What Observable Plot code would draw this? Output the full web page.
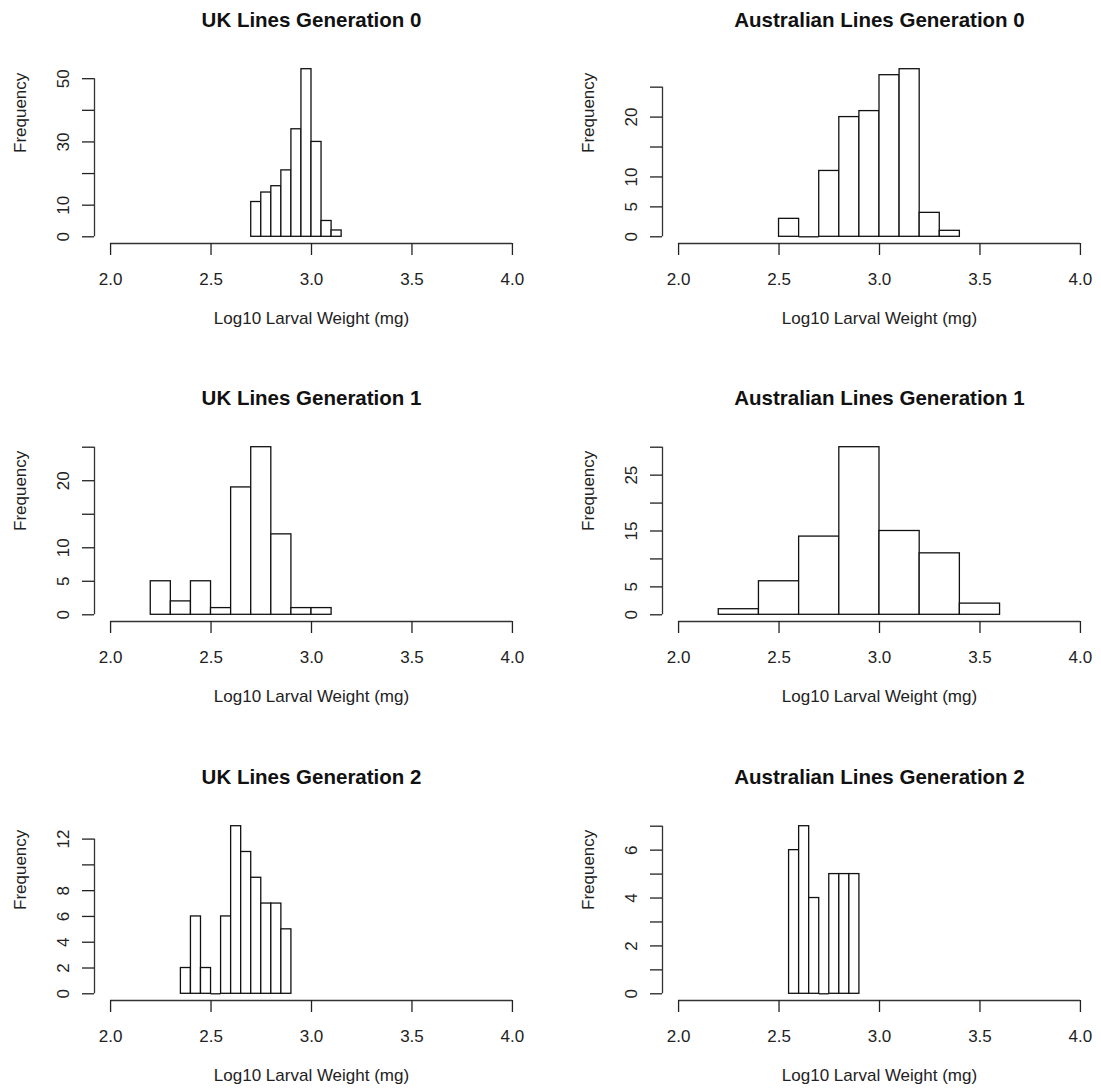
<!DOCTYPE html>
<html><head><meta charset="utf-8">
<script src="https://cdn.jsdelivr.net/npm/d3@7"></script>
<script src="https://cdn.jsdelivr.net/npm/@observablehq/plot@0.6"></script>
<style>
body{margin:0;background:#fff;overflow:hidden}
#root{position:relative;width:1101px;height:1091px;background:#fff}
.panel{position:absolute}
</style></head><body><div id="root"></div>
<script>
// ---- data ----
const xTicks = [2.0, 2.5, 3.0, 3.5, 4.0];
const xLimits = [2, 4];
const xLabel = "Log10 Larval Weight (mg)";
const yLabel = "Frequency";

const ukGen0Title = "UK Lines Generation 0";
const ukGen0Breaks = [2.70, 2.75, 2.80, 2.85, 2.90, 2.95, 3.00, 3.05, 3.10, 3.15];
const ukGen0Counts = [11, 14, 16, 21, 34, 53, 30, 5, 2];
const ukGen0YTicks = [0, 10, 20, 30, 40, 50];
const ukGen0YLabels = [0, 10, 30, 50];

const auGen0Title = "Australian Lines Generation 0";
const auGen0Breaks = [2.5, 2.6, 2.7, 2.8, 2.9, 3.0, 3.1, 3.2, 3.3, 3.4];
const auGen0Counts = [3, 0, 11, 20, 21, 27, 28, 4, 1];
const auGen0YTicks = [0, 5, 10, 15, 20, 25];
const auGen0YLabels = [0, 5, 10, 20];

const ukGen1Title = "UK Lines Generation 1";
const ukGen1Breaks = [2.2, 2.3, 2.4, 2.5, 2.6, 2.7, 2.8, 2.9, 3.0, 3.1];
const ukGen1Counts = [5, 2, 5, 1, 19, 25, 12, 1, 1];
const ukGen1YTicks = [0, 5, 10, 15, 20, 25];
const ukGen1YLabels = [0, 5, 10, 20];

const auGen1Title = "Australian Lines Generation 1";
const auGen1Breaks = [2.2, 2.4, 2.6, 2.8, 3.0, 3.2, 3.4, 3.6];
const auGen1Counts = [1, 6, 14, 30, 15, 11, 2];
const auGen1YTicks = [0, 5, 10, 15, 20, 25, 30];
const auGen1YLabels = [0, 5, 15, 25];

const ukGen2Title = "UK Lines Generation 2";
const ukGen2Breaks = [2.35, 2.40, 2.45, 2.50, 2.55, 2.60, 2.65, 2.70, 2.75, 2.80, 2.85, 2.90];
const ukGen2Counts = [2, 6, 2, 0, 6, 13, 11, 9, 7, 7, 5];
const ukGen2YTicks = [0, 2, 4, 6, 8, 10, 12];
const ukGen2YLabels = [0, 2, 4, 6, 8, 12];

const auGen2Title = "Australian Lines Generation 2";
const auGen2Breaks = [2.55, 2.60, 2.65, 2.70, 2.75, 2.80, 2.85, 2.90];
const auGen2Counts = [6, 7, 4, 0, 5, 5, 5];
const auGen2YTicks = [0, 1, 2, 3, 4, 5, 6, 7];
const auGen2YLabels = [0, 2, 4, 6];

// ---- drawing ----
const FONT = "'Liberation Sans', Arial, Helvetica, sans-serif";
const fmt = d3.format(".1f");

function panel(title, breaks, counts, yTicks, yLabels, left, top) {
  const bins = counts.map((n, i) => ({x1: breaks[i], x2: breaks[i + 1], n}));
  const ymax = d3.max(counts);
  const ypad = 0.04 * ymax;
  const xpad = 0.04 * (xLimits[1] - xLimits[0]);
  const xDomain = [xLimits[0] - xpad, xLimits[1] + xpad];
  const yDomain = [-ypad, ymax + ypad];
  const chart = Plot.plot({
    width: 533, height: 333,
    marginLeft: 94, marginRight: 5, marginTop: 62, marginBottom: 90,
    x: {domain: xDomain},
    y: {domain: yDomain},
    style: {fontFamily: FONT, fontSize: "17px", color: "#222", background: "white"},
    marks: [
      Plot.rectY(bins.filter(d => d.n > 0), {x1: "x1", x2: "x2", y1: () => 0, y2: "n", fill: "white", stroke: "#111", strokeWidth: 1.3}),
      Plot.ruleY(bins.filter(d => d.n === 0), {x1: "x1", x2: "x2", y: () => 0, stroke: "#111", strokeWidth: 1.3}),
      Plot.ruleY([yDomain[0]], {x1: () => xLimits[0], x2: () => xLimits[1], stroke: "#333", strokeWidth: 1.3}),
      Plot.ruleX([xDomain[0]], {y1: () => yTicks[0], y2: () => yTicks[yTicks.length - 1], stroke: "#333", strokeWidth: 1.3}),
      Plot.axisX({ticks: xTicks, tickFormat: fmt, tickSize: 12, tickPadding: 17, fontSize: 17, label: null, strokeWidth: 1.3}),
      Plot.axisY({ticks: yTicks, tickSize: 12, tickPadding: 14, tickRotate: -90, fontSize: 17, label: null, strokeWidth: 1.3,
        tickFormat: d => yLabels.includes(d) ? String(d) : ""}),
      Plot.text([title], {frameAnchor: "top", lineAnchor: "middle", dy: -42, text: d => d, fontSize: 20.5, fontWeight: "bold", fill: "#111"}),
      Plot.text([xLabel], {frameAnchor: "bottom", lineAnchor: "middle", dy: 75, text: d => d, fontSize: 17, fill: "#222"}),
      Plot.text([yLabel], {frameAnchor: "left", dx: -74, rotate: -90, text: d => d, fontSize: 17, fill: "#222"})
    ]
  });
  const div = document.createElement("div");
  div.className = "panel";
  div.style.left = left + "px";
  div.style.top = top + "px";
  div.appendChild(chart);
  document.getElementById("root").appendChild(div);
}

const colLeft = [0, 568];
const rowTop = [0, 378, 757];
panel(ukGen0Title, ukGen0Breaks, ukGen0Counts, ukGen0YTicks, ukGen0YLabels, colLeft[0], rowTop[0]);
panel(auGen0Title, auGen0Breaks, auGen0Counts, auGen0YTicks, auGen0YLabels, colLeft[1], rowTop[0]);
panel(ukGen1Title, ukGen1Breaks, ukGen1Counts, ukGen1YTicks, ukGen1YLabels, colLeft[0], rowTop[1]);
panel(auGen1Title, auGen1Breaks, auGen1Counts, auGen1YTicks, auGen1YLabels, colLeft[1], rowTop[1]);
panel(ukGen2Title, ukGen2Breaks, ukGen2Counts, ukGen2YTicks, ukGen2YLabels, colLeft[0], rowTop[2]);
panel(auGen2Title, auGen2Breaks, auGen2Counts, auGen2YTicks, auGen2YLabels, colLeft[1], rowTop[2]);
</script>
</body></html>
